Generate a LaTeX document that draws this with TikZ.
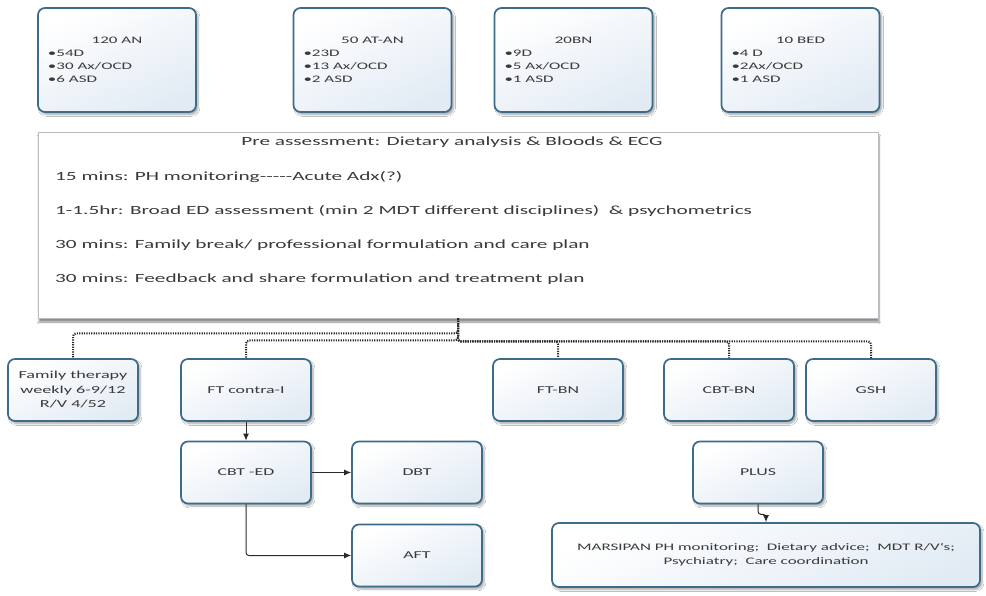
\documentclass[tikz,border=0pt]{standalone}
\usepackage{fontspec}
\setmainfont{Carlito}[FakeStretch=1.7]
\usepackage{xcolor}
\usetikzlibrary{arrows.meta, positioning, calc, shadows.blur}
\definecolor{edge}{HTML}{3C6C8A}
\definecolor{tint}{HTML}{E2EBF4}
\definecolor{ink}{HTML}{3A3A3A}
\definecolor{wire}{HTML}{2A2A2A}
\definecolor{frame}{HTML}{B8BCC0}

\begin{document}
\begin{tikzpicture}[x=1pt, y=-1pt,
    box/.style={draw=edge, line width=1.7pt, rounded corners=7pt, top color=white, bottom color=tint,
        shading angle=25, minimum width=130pt, minimum height=62pt, inner sep=2pt, align=center, text=ink,
        font=\fontsize{10.5}{13}\selectfont,
        blur shadow={shadow xshift=2pt, shadow yshift=-2.5pt, shadow blur steps=6, shadow opacity=35}},
    topbox/.style={box, minimum width=158pt, minimum height=104pt, align=left,
        font=\fontsize{10}{13}\selectfont},
    txt/.style={text=ink, font=\fontsize{12.5}{15}\selectfont, inner sep=0pt},
    dots/.style={draw=wire, line width=2pt, dash pattern=on 1.2pt off 1.2pt, rounded corners=3pt},
    arr/.style={draw=wire, line width=1pt, -{Latex[length=7pt, width=6pt]}, rounded corners=3pt}]
    \fill[white] (0,0) rectangle (986,596);
    \useasboundingbox (0,0) rectangle (986,596);

    \node[topbox] (an)   at (117,60)   {\makebox[138pt]{120 AN}\\•54D\\•30 Ax/OCD\\•6 ASD};
    \node[topbox] (atan) at (372.5,60) {\makebox[138pt]{50 AT-AN}\\•23D\\•13 Ax/OCD\\•2 ASD};
    \node[topbox] (bn)   at (573.5,60) {\makebox[138pt]{20BN}\\•9D\\•5 Ax/OCD\\•1 ASD};
    \node[topbox] (bed)  at (800.5,60) {\makebox[138pt]{10 BED}\\•4 D\\•2Ax/OCD\\•1 ASD};

    \node[draw=frame, fill=white, line width=0.8pt, minimum width=840pt, minimum height=186pt,
        blur shadow={shadow xshift=1pt, shadow yshift=-4pt, shadow blur steps=6, shadow opacity=45}]
        (pre) at (458,225) {};
    \node[txt] (title) at (452,142) {Pre assessment: Dietary analysis \& Bloods \& ECG};
    \foreach \t [count=\i] in {{15 mins: PH monitoring-{}-{}-{}-{}-Acute Adx(?)},
        {1-1.5hr: Broad ED assessment (min 2 MDT different disciplines)\ \ \& psychometrics},
        {30 mins: Family break/ professional formulation and care plan},
        {30 mins: Feedback and share formulation and treatment plan}}
        \node[txt, anchor=west] (l\i) at (55,143+34*\i) {\t};

    \node[box, font=\fontsize{10.7}{14.5}\selectfont] (fam) at (73,390) {Family therapy\\weekly 6-9/12\\R/V 4/52};
    \node[box] (ftc)   at (246,390) {FT contra-I};
    \node[box] (ftbn)  at (558,390) {FT-BN};
    \node[box] (cbtbn) at (729,390) {CBT-BN};
    \node[box] (gsh)   at (871,390) {GSH};

    \node[box] (cbted) at (246,472.5) {CBT -ED};
    \node[box] (dbt)   at (417,472.5) {DBT};
    \node[box] (aft)   at (417,555.5) {AFT};
    \node[box] (plus)  at (758,472.5) {PLUS};
    \node[box, minimum width=428pt, minimum height=64pt, font=\fontsize{10}{14}\selectfont]
        (mars) at (766,555) {MARSIPAN PH monitoring;\ \ Dietary advice;\ \ MDT R/V`s;\\Psychiatry;\ \ Care coordination};

    \draw[dots] (pre.south) -- ++(0,15) -| (fam.north);
    \draw[dots] (pre.south) -- ++(0,22) -| (ftc.north);
    \foreach \n in {ftbn, cbtbn, gsh}
        \draw[dots] (pre.south) -- ++(0,23) -| (\n.north);

    \draw[arr] (ftc.south) -- (cbted.north);
    \draw[arr] (cbted.east) -- (dbt.west);
    \draw[arr] (cbted.south) |- (aft.west);
    \draw[arr] (plus.south) -- ++(0,10) -| (mars.north);
\end{tikzpicture}
\end{document}
